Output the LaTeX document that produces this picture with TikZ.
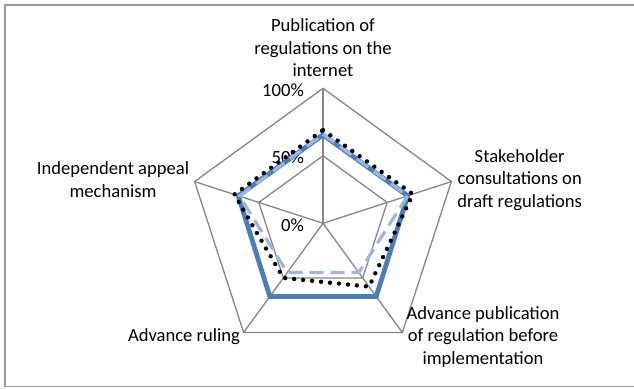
\documentclass[tikz,border=0pt]{standalone}
\usepackage{fontspec}
\setmainfont{Carlito}
\definecolor{gridgray}{HTML}{868686}
\definecolor{serblue}{HTML}{4A7EBB}
\definecolor{serlight}{HTML}{9BB7DD}
\definecolor{framegray}{HTML}{9A9A9A}
\begin{document}
\begin{tikzpicture}[x=1pt,y=1pt,
 grid/.style={draw=gridgray, line width=1.3pt},
 serA/.style={draw=serblue, line width=4.8pt, line join=miter},
 serB/.style={draw=serlight, line width=3.2pt, dash pattern=on 14pt off 7pt},
 serC/.style={draw=black, line width=4.4pt, line cap=round, dash pattern=on 0pt off 9pt},
 cat/.style={font=\fontsize{18.6}{22.6}\selectfont, align=center, inner sep=0pt},
 ax/.style={font=\fontsize{18.6}{22.6}\selectfont, inner sep=0pt, anchor=east}]
\useasboundingbox (0,0) rectangle (634,388);
\draw[framegray, line width=1.2pt] (640,383) -- (5,383) -- (5,1.5) -- (640,1.5);
\coordinate (C) at (323,164.7);
\foreach \a [count=\i] in {90,18,-54,-126,162} {
  \coordinate (o\i) at ([shift={(C)}]\a:135);
  \coordinate (h\i) at ([shift={(C)}]\a:67.5);
}
\draw[grid] (o1)--(o2)--(o3)--(o4)--(o5)--cycle;
\draw[grid] (h1)--(h2)--(h3)--(h4)--(h5)--cycle;
\foreach \i in {1,...,5} \draw[grid] (C)--(o\i);
% axis labels
\node[ax] (l100) at (304,298) {100\%};
\node[ax] (l50) at (304,230.7) {50\%};
\node[ax] (l0) at (304,163) {0\%};
% category labels
\node[cat] (c1) at (323,340) {Publication of\\regulations on the\\internet};
\node[cat] (c2) at (519.7,208) {Stakeholder\\consultations on\\draft regulations};
\node[cat] (c3) at (483,51.3) {Advance publication\\of regulation before\\implementation};
\node[cat] (c4) at (184,51.3) {Advance ruling};
\node[cat] (c5) at (113,208.5) {Independent appeal\\mechanism};
% series
\foreach \a/\r [count=\i] in {90/88.4,18/89.1,-54/90.5,-126/90.5,162/89.1}
  \coordinate (a\i) at ([shift={(C)}]\a:\r);
\foreach \a/\r [count=\i] in {90/89.1,18/89.1,-54/60.8,-126/60.8,162/87.8}
  \coordinate (b\i) at ([shift={(C)}]\a:\r);
\foreach \a/\r [count=\i] in {90/93.2,18/94.5,-54/78.3,-126/67.5,162/93.2}
  \coordinate (d\i) at ([shift={(C)}]\a:\r);
\draw[serA] (a1)--(a2)--(a3)--(a4)--(a5)--cycle;
\draw[serB] (b1)--(b2)--(b3)--(b4)--(b5)--cycle;
\draw[serC] (d1)--(d2)--(d3)--(d4)--(d5)--cycle;
\end{tikzpicture}
\end{document}
